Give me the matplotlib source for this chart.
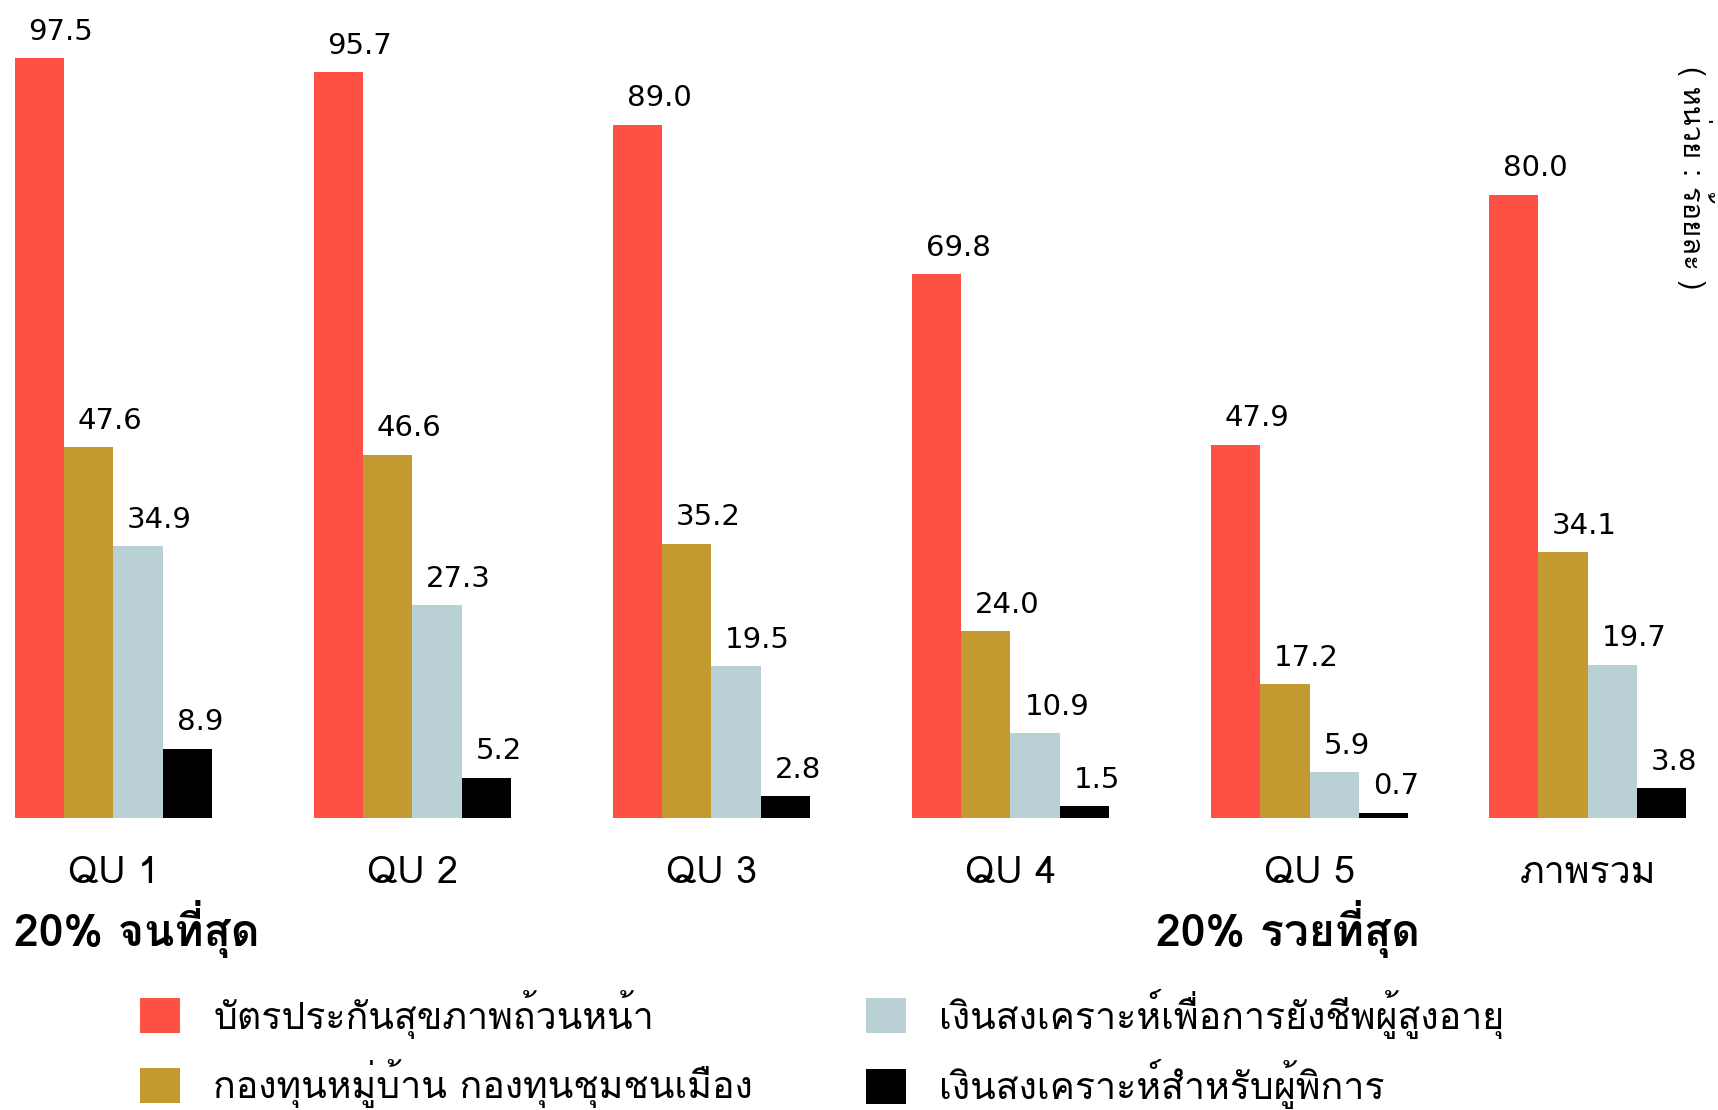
import matplotlib
matplotlib.use("Agg")
import matplotlib.pyplot as plt
import matplotlib.font_manager as fm
from matplotlib.ft2font import FT2Font
import numpy as np

# ข้อมูล (หน่วย : ร้อยละ)
groups = ["QU 1", "QU 2", "QU 3", "QU 4", "QU 5", "ภาพรวม"]
series_names = [
    "บัตรประกันสุขภาพถ้วนหน้า",
    "กองทุนหมู่บ้าน กองทุนชุมชนเมือง",
    "เงินสงเคราะห์เพื่อการยังชีพผู้สูงอายุ",
    "เงินสงเคราะห์สำหรับผู้พิการ",
]
health_card = [97.5, 95.7, 89.0, 69.8, 47.9, 80.0]
village_fund = [47.6, 46.6, 35.2, 24.0, 17.2, 34.1]
elderly_allowance = [34.9, 27.3, 19.5, 10.9, 5.9, 19.7]
disabled_allowance = [8.9, 5.2, 2.8, 1.5, 0.7, 3.8]
colors = ["#FF5046", "#C29A30", "#B9D0D5", "#000000"]

# หาฟอนต์ที่มีอักษรไทย
thai_font = None
for f in fm.fontManager.ttflist:
    try:
        if 0x0E01 in FT2Font(f.fname).get_charmap():
            thai_font = f.name
            break
    except Exception:
        pass
fams = ([thai_font] if thai_font else []) + ["DejaVu Sans"]
plt.rcParams["font.family"] = fams

fig = plt.figure(figsize=(17.18, 11.10), dpi=100)
ax = fig.add_axes([0, 0.263, 1, 0.702])

x = np.array([0, 1, 2, 3, 4, 4.93])
w = 0.165
data = [health_card, village_fund, elderly_allowance, disabled_allowance]
bars = []
for i, vals in enumerate(data):
    xs = x + (i - 1.5) * w
    b = ax.bar(xs, vals, width=w, color=colors[i], label=series_names[i])
    bars.append(b)
    for xx, v in zip(xs, vals):
        ax.annotate("%.1f" % v, (xx - w / 2, v), xytext=(10, 9),
                    textcoords="offset points", ha="left", va="bottom",
                    fontsize=21, family="DejaVu Sans", annotation_clip=False)

ax.set_xlim(-0.379, 5.366)
ax.set_ylim(0, 100)
ax.set_yticks([])
ax.set_xticks(x)
ax.set_xticklabels(groups, fontsize=27)
ax.tick_params(axis="x", length=0, pad=27)
for s in ax.spines.values():
    s.set_visible(False)

fig.text(0.987, 0.84, "( หน่วย : ร้อยละ )", rotation=-90, fontsize=21,
         ha="center", va="center")

fig.text(0.008, 0.163, "20% จนที่สุด", fontsize=32, fontweight="bold",
         ha="left", va="center")
fig.text(0.673, 0.163, "20% รวยที่สุด", fontsize=32, fontweight="bold",
         ha="left", va="center")

leg_kw = dict(ncol=1, loc="center left", frameon=False, fontsize=27,
              handlelength=1.07, handleheight=1.07, handletextpad=0.88,
              labelspacing=0.55, borderpad=0, borderaxespad=0)
leg1 = fig.legend(handles=bars[:2], labels=series_names[:2],
                  bbox_to_anchor=(0.0815, 0.055), **leg_kw)
leg2 = fig.legend(handles=bars[2:], labels=series_names[2:],
                  bbox_to_anchor=(0.504, 0.055), **leg_kw)

fig.savefig("out.png", dpi=100, facecolor="white")
